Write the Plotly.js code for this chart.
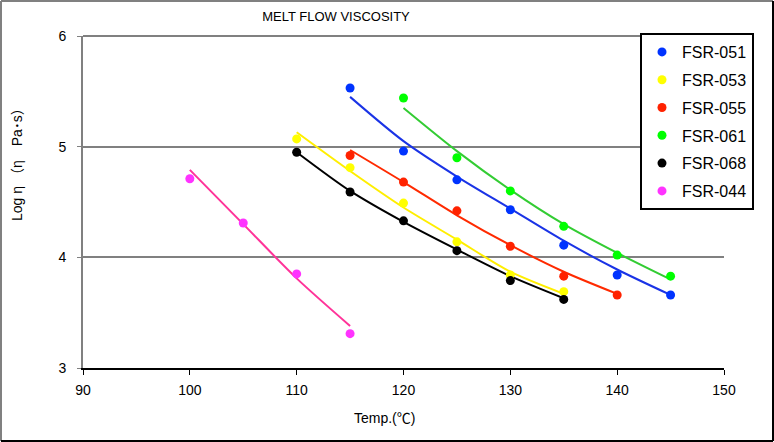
<!DOCTYPE html>
<html>
<head>
<meta charset="utf-8">
<script src="https://cdn.plot.ly/plotly-3.0.1.min.js"></script>
<style>html,body{margin:0;padding:0;background:#fff;}#chart{width:774px;height:442px;}</style>
</head>
<body>
<div id="chart"></div>
<script>
// ---- data ----
const names = ["FSR-051", "FSR-053", "FSR-055", "FSR-061", "FSR-068", "FSR-044"];
const markerColors = ["#0033ff", "#ffff00", "#ff2200", "#00ff00", "#000000", "#ff33ff"];
const lineColors = ["#1a33e6", "#ffee00", "#ff2a00", "#33cc33", "#000000", "#ff3399"];

const temp051 = [115, 120, 125, 130, 135, 140, 145];
const visc051 = [5.53, 4.96, 4.70, 4.43, 4.11, 3.84, 3.66];
const trend051 = [5.45, 5.05, 4.73, 4.44, 4.15, 3.89, 3.66];

const temp053 = [110, 115, 120, 125, 130, 135];
const visc053 = [5.07, 4.81, 4.49, 4.14, 3.84, 3.69];
const trend053 = [5.13, 4.78, 4.45, 4.16, 3.87, 3.67];

const temp055 = [115, 120, 125, 130, 135, 140];
const visc055 = [4.92, 4.68, 4.42, 4.10, 3.83, 3.66];
const trend055 = [4.97, 4.68, 4.38, 4.11, 3.87, 3.67];

const temp061 = [120, 125, 130, 135, 140, 145];
const visc061 = [5.44, 4.90, 4.60, 4.28, 4.02, 3.83];
const trend061 = [5.35, 4.96, 4.61, 4.30, 4.04, 3.80];

const temp068 = [110, 115, 120, 125, 130, 135];
const visc068 = [4.95, 4.59, 4.33, 4.06, 3.79, 3.62];
const trend068 = [4.95, 4.60, 4.32, 4.07, 3.83, 3.63];

const temp044 = [100, 105, 110, 115];
const visc044 = [4.71, 4.31, 3.85, 3.31];
const trend044 = [4.79, 4.30, 3.81, 3.38];

const xTicks = [90, 100, 110, 120, 130, 140, 150];
const yTicks = [3, 4, 5, 6];

const temps = [temp051, temp053, temp055, temp061, temp068, temp044];
const viscs = [visc051, visc053, visc055, visc061, visc068, visc044];
const trends = [trend051, trend053, trend055, trend061, trend068, trend044];

const FONT = "Liberation Sans, Arial, Noto Sans CJK JP, sans-serif";

const traces = [];
names.forEach((n, i) => {
  traces.push({
    type: "scatter", mode: "lines", x: temps[i], y: trends[i],
    line: {color: lineColors[i], width: 2, shape: "spline", smoothing: 0.8},
    showlegend: false, legendgroup: "g" + i, hoverinfo: "skip"
  });
});
names.forEach((n, i) => {
  traces.push({
    type: "scatter", mode: "markers", name: n, x: temps[i], y: viscs[i],
    marker: {color: markerColors[i], size: 9, symbol: "circle"},
    legendgroup: "g" + i
  });
});

const L = 83, R = 50, T = 36, B = 74, W = 774, H = 442;
const pw = W - L - R, ph = H - T - B;
const px = v => (v - L) / pw;           // page px -> paper x
const py = v => (H - B - v) / ph;       // page px -> paper y

const layout = {
  width: W, height: H,
  margin: {l: L, r: R, t: T, b: B, pad: 0},
  paper_bgcolor: "#ffffff", plot_bgcolor: "#ffffff",
  font: {family: FONT, color: "#000"},
  title: {text: "MELT FLOW VISCOSITY", font: {family: FONT, size: 13, color: "#000"},
          xref: "container", yref: "container", x: 336 / W, xanchor: "center", y: 1 - 16 / H, yanchor: "middle"},
  xaxis: {
    range: [90, 150], tickvals: xTicks, ticktext: xTicks.map(String),
    showgrid: false, zeroline: false, showline: true, linecolor: "#000", linewidth: 2,
    ticks: "outside", ticklen: 5, tickcolor: "#000", tickwidth: 1, ticklabelstandoff: 3,
    tickfont: {family: FONT, size: 14, color: "#000"}, fixedrange: true
  },
  yaxis: {
    range: [3, 6], tickvals: yTicks, ticktext: yTicks.map(String),
    showgrid: true, gridcolor: "#808080", gridwidth: 2,
    zeroline: false, showline: true, linecolor: "#808080", linewidth: 2,
    ticks: "outside", ticklen: 4, tickcolor: "#808080", tickwidth: 1, ticklabelstandoff: 8,
    tickfont: {family: FONT, size: 14, color: "#000"}, fixedrange: true
  },
  legend: {
    x: px(640), y: py(33), xanchor: "left", yanchor: "top",
    bgcolor: "#ffffff", bordercolor: "#000", borderwidth: 2,
    font: {family: FONT, size: 16, color: "#000"},
    traceorder: "grouped", tracegroupgap: 4, itemwidth: 30
  },
  annotations: [
    {text: "Temp.(℃)", xref: "paper", yref: "paper", x: px(384), y: py(418),
     xanchor: "center", yanchor: "middle", showarrow: false, font: {family: FONT, size: 14, color: "#000"}},
    {text: "Log η （η　Pa･s）", xref: "paper", yref: "paper", x: px(17), y: py(161),
     xanchor: "center", yanchor: "middle", textangle: -90, showarrow: false,
     font: {family: "Liberation Sans, Noto Sans CJK JP, sans-serif", size: 14, color: "#000"}}
  ],
  shapes: [
    // top gridline (value 6) that Plotly omits at the range edge
    {type: "line", xref: "paper", yref: "paper", x0: 0, x1: 1, y0: 1, y1: 1, line: {color: "#808080", width: 2}, layer: "below"},
    // outer frame
    {type: "line", xref: "paper", yref: "paper", x0: px(1), x1: px(773), y0: py(1), y1: py(1), line: {color: "#808080", width: 2}},
    {type: "line", xref: "paper", yref: "paper", x0: px(1), x1: px(1), y0: py(1), y1: py(441), line: {color: "#808080", width: 2}},
    {type: "line", xref: "paper", yref: "paper", x0: px(773), x1: px(773), y0: py(1), y1: py(441), line: {color: "#000", width: 2}},
    {type: "line", xref: "paper", yref: "paper", x0: px(1), x1: px(773), y0: py(441), y1: py(441), line: {color: "#000", width: 2}}
  ]
};

Plotly.newPlot("chart", traces, layout, {displayModeBar: false, staticPlot: true});
</script>
</body>
</html>
